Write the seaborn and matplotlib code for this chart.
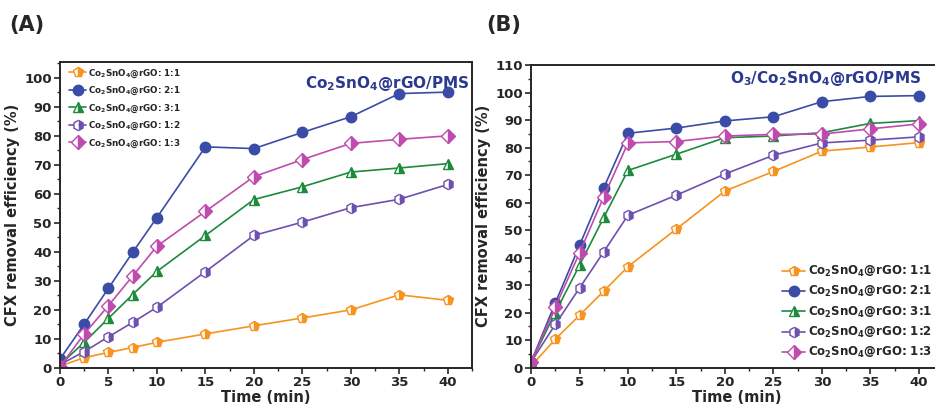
import pandas as pd
import matplotlib.pyplot as plt
import seaborn as sns
from matplotlib.ticker import MultipleLocator

# --- data ---
time = [0, 2.5, 5, 7.5, 10, 15, 20, 25, 30, 35, 40]
labels = ['Co$_2$SnO$_4$@rGO: 1:1', 'Co$_2$SnO$_4$@rGO: 2:1', 'Co$_2$SnO$_4$@rGO: 3:1',
          'Co$_2$SnO$_4$@rGO: 1:2', 'Co$_2$SnO$_4$@rGO: 1:3']

# (A) Co2SnO4@rGO/PMS
pms_11 = [0.5, 3.4, 5.2, 6.9, 8.7, 11.6, 14.4, 17.1, 19.9, 25.1, 23.2]
pms_21 = [2.9, 15.0, 27.4, 39.8, 51.8, 76.2, 75.6, 81.2, 86.6, 94.6, 95.1]
pms_31 = [1.0, 8.7, 17.0, 25.2, 33.2, 45.6, 58.0, 62.4, 67.5, 68.9, 70.4]
pms_12 = [1.0, 5.5, 10.6, 15.6, 20.8, 33.1, 45.6, 50.2, 55.2, 58.1, 63.2]
pms_13 = [0.3, 11.6, 21.4, 31.6, 41.9, 53.9, 65.9, 71.8, 77.4, 78.8, 80.0]

# (B) O3/Co2SnO4@rGO/PMS
o3_11 = [0.5, 10.3, 19.0, 27.8, 36.7, 50.4, 64.2, 71.3, 78.7, 80.2, 81.8]
o3_21 = [2.0, 23.5, 44.4, 65.4, 85.2, 87.1, 89.7, 91.2, 96.7, 98.6, 98.9]
o3_31 = [2.0, 20.0, 37.2, 54.6, 71.7, 77.6, 83.6, 84.2, 85.4, 88.8, 89.8]
o3_12 = [2.0, 15.7, 28.9, 42.1, 55.4, 62.7, 70.4, 77.2, 81.7, 82.7, 83.9]
o3_13 = [2.0, 22.0, 41.7, 62.1, 81.7, 82.2, 84.2, 84.8, 84.9, 86.8, 88.6]

colors = ['#F7931E', '#3A4CA6', '#1D8A3C', '#6E50B0', '#C04BAE']
markers = ['p', 'o', '^', 'h', 'D']
fills = ['right', 'full', 'right', 'right', 'right']

sns.set_style('ticks')
plt.rcParams['font.family'] = ['DejaVu Sans']
plt.rcParams['font.weight'] = 'bold'
plt.rcParams['mathtext.fontset'] = 'dejavusans'
plt.rcParams['mathtext.default'] = 'bf'

fig = plt.figure(figsize=(9.35, 4.12), dpi=100)
ax_a = fig.add_axes([0.0642, 0.108, 0.4406, 0.7415])
ax_b = fig.add_axes([0.568, 0.108, 0.4406, 0.734])


def draw(ax, series, ylim, title, title_xy, legend_loc, legend_size, bbox, spacing):
    for vals, lab, c, m, f in zip(series, labels, colors, markers, fills):
        df = pd.DataFrame({'Time': time, 'CFX': vals})
        sns.lineplot(data=df, x='Time', y='CFX', ax=ax, color=c, marker=m,
                     fillstyle=f, markerfacecoloralt='white', markeredgecolor=c,
                     markeredgewidth=1.0, markersize=7.5, linewidth=1.2, label=lab)
    ax.set_xlim(0, 42.5)
    ax.set_ylim(*ylim)
    ax.xaxis.set_major_locator(MultipleLocator(5))
    ax.xaxis.set_minor_locator(MultipleLocator(2.5))
    ax.yaxis.set_major_locator(MultipleLocator(10))
    ax.yaxis.set_minor_locator(MultipleLocator(5))
    ax.tick_params(which='major', length=4, width=1.2, labelsize=9.5, pad=2)
    ax.tick_params(which='minor', length=2.5, width=1.0)
    for lbl in ax.get_xticklabels() + ax.get_yticklabels():
        lbl.set_fontweight('bold')
    for s in ax.spines.values():
        s.set_linewidth(1.4)
    ax.set_xlabel('Time (min)', fontsize=10.5, fontweight='bold', labelpad=1)
    ax.set_ylabel('CFX removal efficiency (%)', fontsize=10.5, fontweight='bold', labelpad=3)
    ax.text(title_xy[0], title_xy[1], title, transform=ax.transData, ha='right',
            va='center', fontsize=11, fontweight='bold', color='#2B3990')
    ax.legend(loc=legend_loc, bbox_to_anchor=bbox, frameon=False,
              prop={'size': legend_size, 'weight': 'bold'}, handlelength=1.9,
              labelspacing=spacing, handletextpad=0.25, borderaxespad=0.2)


draw(ax_a, [pms_11, pms_21, pms_31, pms_12, pms_13], (0, 105.5),
     'Co$_2$SnO$_4$@rGO/PMS', (42.3, 98.0), 'upper left', 6.3, (0.01, 1.0), 0.6)
draw(ax_b, [o3_11, o3_21, o3_31, o3_12, o3_13], (0, 110),
     'O$_3$/Co$_2$SnO$_4$@rGO/PMS', (40.2, 105.0), 'lower right', 8.5, (0.99, 0.0), 0.45)

fig.text(0.010, 0.94, '(A)', fontsize=15, fontweight='bold', va='center')
fig.text(0.520, 0.94, '(B)', fontsize=15, fontweight='bold', va='center')

plt.savefig('out.png', dpi=100)
